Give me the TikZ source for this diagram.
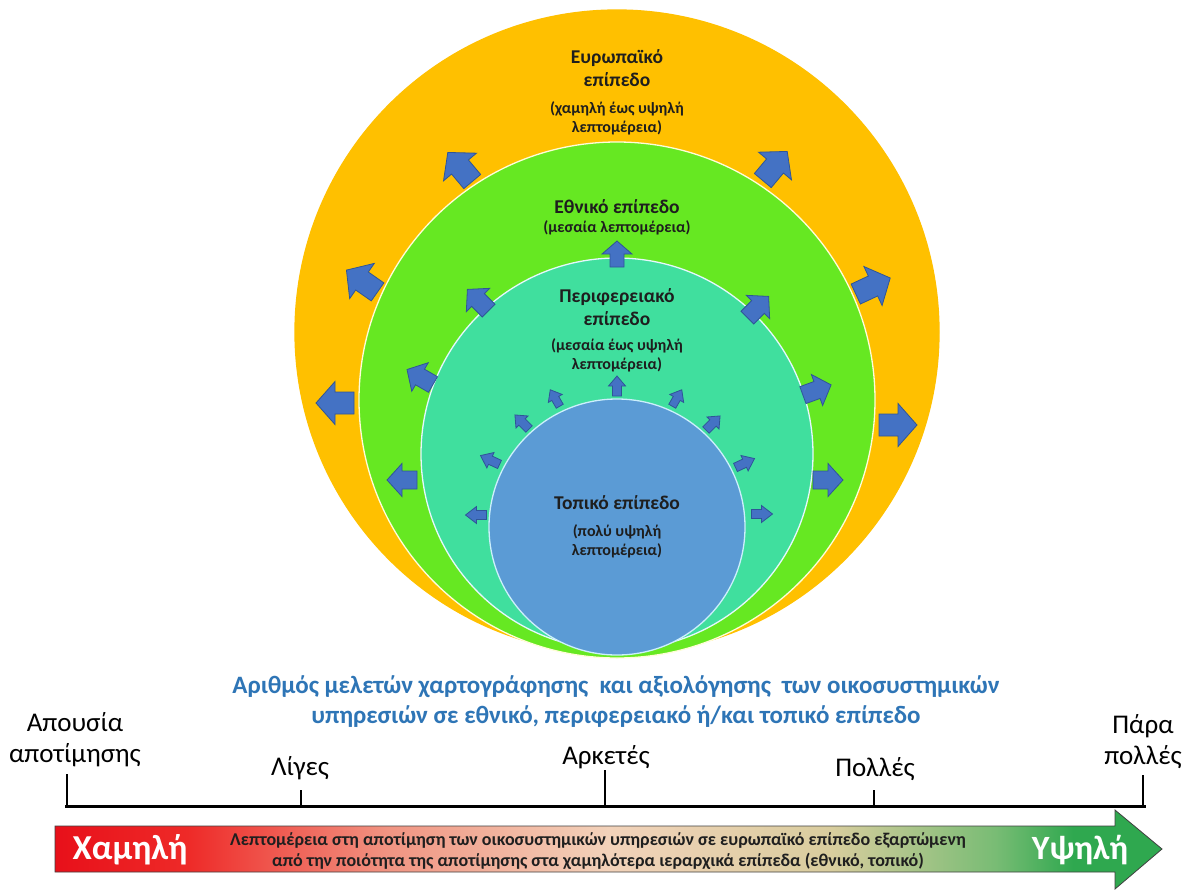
\documentclass[tikz,border=0pt]{standalone}
\usepackage{fontspec}
\setmainfont{Carlito}
\usetikzlibrary{calc}

\definecolor{euroC}{HTML}{FFC000}
\definecolor{natC}{HTML}{66E822}
\definecolor{regC}{HTML}{40DF9E}
\definecolor{locC}{HTML}{5B9BD5}
\definecolor{arrowC}{HTML}{4472C4}
\definecolor{arrowEdge}{HTML}{2F5597}
\definecolor{titleBlue}{HTML}{2E75B6}
\definecolor{inkC}{HTML}{1E1E1E}
\definecolor{barRed}{HTML}{E8101A}
\definecolor{barRed2}{HTML}{EE2A28}
\definecolor{barSalmon}{HTML}{F19482}
\definecolor{barPeach}{HTML}{F2D2BA}
\definecolor{barTan}{HTML}{D9CD9E}
\definecolor{barOlive}{HTML}{78BC74}
\definecolor{barGreen}{HTML}{2FA84F}

% horizontal colour ramp for the detail bar (path is mapped onto 25bp..75bp)
\pgfdeclarehorizontalshading{detailramp}{100bp}{%
  color(0bp)=(barRed); color(25bp)=(barRed); color(31bp)=(barRed2);
  color(40bp)=(barSalmon); color(50bp)=(barPeach); color(60bp)=(barTan);
  color(67.5bp)=(barOlive); color(71bp)=(barGreen); color(100bp)=(barGreen)}

% block arrow: centre x, centre y, angle, length, shaft width, head width, head length
\newcommand{\blockarrow}[7]{%
  \draw[flowarrow, shift={(#1,#2)}, rotate=#3]
    (-#4/2,-#5/2) -- (#4/2-#7,-#5/2) -- (#4/2-#7,-#6/2) -- (#4/2,0)
    -- (#4/2-#7,#6/2) -- (#4/2-#7,#5/2) -- (-#4/2,#5/2) -- cycle;}

\tikzset{
  ring/.style={circle, inner sep=0pt, outer sep=0pt, draw=white!85!yellow, line width=1.3pt},
  flowarrow/.style={fill=arrowC, draw=arrowEdge, line width=0.8pt, line join=miter},
  lvlname/.style={font=\bfseries\fontsize{19.5}{23}\selectfont, text=inkC, align=center, inner sep=0pt},
  lvlnote/.style={font=\bfseries\fontsize{16}{19}\selectfont, text=inkC, align=center, inner sep=0pt},
  scalelbl/.style={font=\fontsize{27}{31}\selectfont, text=black, align=center, inner sep=0pt},
  axisline/.style={line width=3pt, black},
  tickline/.style={line width=2.6pt, black},
}

\begin{document}
\begin{tikzpicture}[x=1pt, y=-1pt]
\useasboundingbox (0,0) rectangle (1189,894);
\fill[white] (0,0) rectangle (1189,894);

% nested levels
\node[ring, fill=euroC, draw=euroC, minimum size=644pt] (euro) at (617,332) {};
\node[ring, fill=natC, minimum size=516pt] (nat) at (617,400) {};
\node[ring, fill=regC, draw=white!90!cyan, minimum size=392pt] (reg) at (617,454) {};
\node[ring, fill=locC, draw=white!80!cyan, minimum size=256pt] (loc) at (617,527) {};

% outward arrows, European ring
\blockarrow{460}{167}{130}{38}{22}{43}{19}
\blockarrow{775}{166}{50}{38}{22}{43}{19}
\blockarrow{362}{281}{145}{38}{22}{43}{19}
\blockarrow{873}{286}{25}{38}{22}{43}{19}
\blockarrow{335}{403}{180}{38}{22}{43}{19}
\blockarrow{898}{425}{0}{38}{22}{43}{19}

% outward arrows, national ring
\blockarrow{478}{300}{135}{30}{18}{33}{15}
\blockarrow{758}{307}{45}{30}{18}{33}{15}
\blockarrow{420}{377}{150}{30}{18}{33}{15}
\blockarrow{817}{390}{20}{30}{18}{33}{15}
\blockarrow{402}{480}{180}{30}{18}{33}{15}
\blockarrow{828}{480}{0}{30}{18}{33}{15}
\blockarrow{617}{254}{90}{26}{14}{30}{13}

% outward arrows, regional ring
\blockarrow{476}{515}{180}{21}{9}{17}{11}
\blockarrow{490}{460}{155}{21}{9}{17}{11}
\blockarrow{522}{422}{135}{20}{9}{17}{10}
\blockarrow{555}{398}{120}{19}{8}{16}{10}
\blockarrow{617}{386}{90}{20}{9}{17}{10}
\blockarrow{677}{398}{60}{19}{8}{16}{10}
\blockarrow{713}{423}{45}{20}{9}{17}{10}
\blockarrow{745}{463}{25}{21}{9}{17}{11}
\blockarrow{762}{514}{0}{21}{9}{17}{11}

% level labels
\node[lvlname] (euroName) at (617,68) {Ευρωπαϊκό\\επίπεδο};
\node[lvlnote] (euroNote) at (617,118) {(χαμηλή έως υψηλή\\λεπτομέρεια)};
\node[lvlname] (natName) at (617,207) {Εθνικό επίπεδο};
\node[lvlnote] (natNote) at (617,228) {(μεσαία λεπτομέρεια)};
\node[lvlname] (regName) at (617,307) {Περιφερειακό\\επίπεδο};
\node[lvlnote] (regNote) at (617,355) {(μεσαία έως υψηλή\\λεπτομέρεια)};
\node[lvlname] (locName) at (617,503) {Τοπικό επίπεδο};
\node[lvlnote] (locNote) at (617,541) {(πολύ υψηλή\\λεπτομέρεια)};

% axis title
\node[font=\bfseries\fontsize{25}{30}\selectfont, text=titleBlue, align=center, inner sep=0pt] (axisTitle) at (616,702)
  {Αριθμός μελετών χαρτογράφησης\ \ και αξιολόγησης\ \ των οικοσυστημικών\\
   υπηρεσιών σε εθνικό, περιφερειακό ή/και τοπικό επίπεδο};

% scale axis and ticks
\coordinate (axL) at (65,806);
\coordinate (axR) at (1146,806);
\coordinate (t0) at (67,806);
\coordinate (t1) at (301,806);
\coordinate (t2) at (605,806);
\coordinate (t3) at (874,806);
\coordinate (t4) at (1143,806);
\draw[axisline] (axL) -- (axR);
\draw[tickline] (t0) -- ++(0,-32);
\draw[tickline] (t1) -- ++(0,-16);
\draw[tickline] (t2) -- ++(0,-36);
\draw[tickline] (t3) -- ++(0,-16);
\draw[tickline] (t4) -- ++(0,-31);

\node[scalelbl] (s0) at (75,740) {Απουσία\\αποτίμησης};
\node[scalelbl] (s1) at (300,768) {Λίγες};
\node[scalelbl] (s2) at (606,757) {Αρκετές};
\node[scalelbl] (s3) at (875,769) {Πολλές};
\node[scalelbl] (s4) at (1143,742) {Πάρα\\πολλές};

% detail bar
\draw[shading=detailramp, draw=black!75, line width=0.8pt]
  (55,826) -- (1115,826) -- (1115,810) -- (1162,849) -- (1115,889)
  -- (1115,872) -- (55,872) -- cycle;
\node[font=\bfseries\fontsize{35}{40}\selectfont, text=white, inner sep=0pt] (low) at (130,850) {Χαμηλή};
\node[font=\bfseries\fontsize{34}{40}\selectfont, text=white, inner sep=0pt] (high) at (1080,850) {Υψηλή};
\node[font=\bfseries\fontsize{18}{21}\selectfont, text=black!88, align=center, inner sep=0pt] (barText) at (598,851)
  {Λεπτομέρεια στη αποτίμηση των οικοσυστημικών υπηρεσιών σε ευρωπαϊκό επίπεδο εξαρτώμενη\\
   από την ποιότητα της αποτίμησης στα χαμηλότερα ιεραρχικά επίπεδα (εθνικό, τοπικό)};
\end{tikzpicture}
\end{document}
